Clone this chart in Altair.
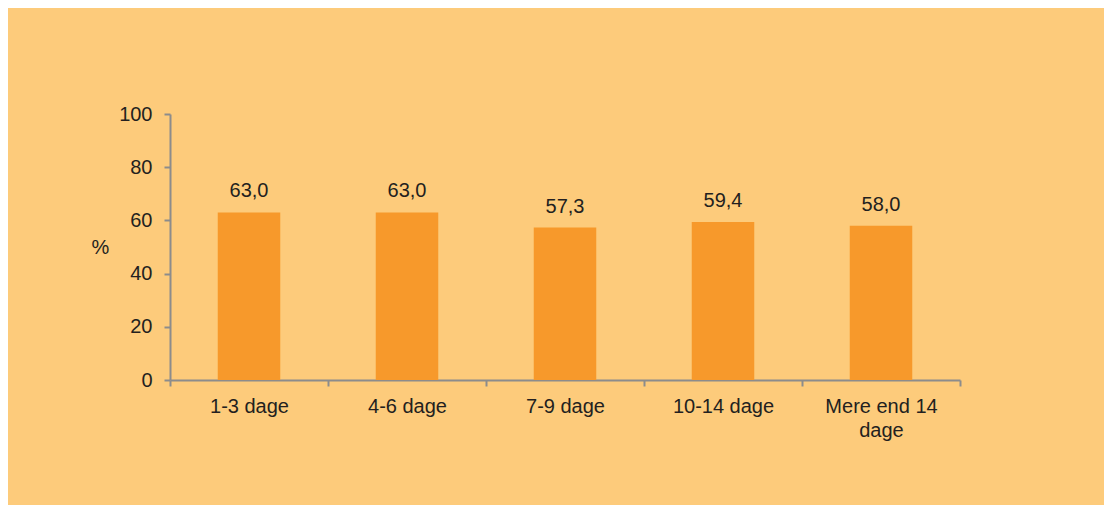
import altair as alt
import pandas as pd

categories = ["1-3 dage", "4-6 dage", "7-9 dage", "10-14 dage", "Mere end 14 dage"]
values = [63.0, 63.0, 57.3, 59.4, 58.0]

df = pd.DataFrame({"kategori": categories, "pct": values})

BG = "#FDCB7B"
BAR = "#F7992B"
AXIS = "#8C8C8C"
TXT = "#231F20"
FONT = "Liberation Sans"
FS = 20

x = alt.X(
    "kategori:N",
    sort=categories,
    scale=alt.Scale(paddingInner=0, paddingOuter=0),
    axis=alt.Axis(
        title=None,
        labelAngle=0,
        tickBand="extent",
        labelFontSize=FS,
        labelColor=TXT,
        labelFont=FONT,
        labelPadding=10,
        labelLineHeight=24,
        labelExpr="datum.label == 'Mere end 14 dage' ? ['Mere end 14', 'dage'] : datum.label",
        domainColor=AXIS,
        domainWidth=2,
        tickColor=AXIS,
        tickWidth=2,
        tickSize=6,
    ),
)

y = alt.Y(
    "pct:Q",
    scale=alt.Scale(domain=[0, 100], nice=False),
    axis=alt.Axis(
        title="%",
        titleAngle=0,
        titleX=-70,
        titleY=133,
        titleAlign="center",
        titleBaseline="middle",
        titleFontSize=FS,
        titleFontWeight="normal",
        titleColor=TXT,
        titleFont=FONT,
        values=[0, 20, 40, 60, 80, 100],
        grid=False,
        labelFontSize=FS,
        labelColor=TXT,
        labelFont=FONT,
        labelPadding=12,
        domainColor=AXIS,
        domainWidth=2,
        tickColor=AXIS,
        tickWidth=2,
        tickSize=6,
    ),
)

base = alt.Chart(df)

bars = base.mark_bar(color=BAR, width=62.5).encode(x=x, y=y)

labels = base.transform_calculate(
    lbl="replace(format(datum.pct, '.1f'), '.', ',')"
).mark_text(
    fontSize=FS, color=TXT, font=FONT, baseline="alphabetic", dy=-15
).encode(x=alt.X("kategori:N", sort=categories), y="pct:Q", text="lbl:N")

chart = (
    alt.layer(bars, labels)
    .properties(
        width=790,
        height=266,
        background=BG,
        padding={"left": 162, "top": 106, "right": 144, "bottom": 125},
        autosize=alt.AutoSizeParams(type="none"),
    )
    .configure_view(stroke=None)
)

chart.save("out.html", embed_options={"renderer": "svg", "actions": False})
